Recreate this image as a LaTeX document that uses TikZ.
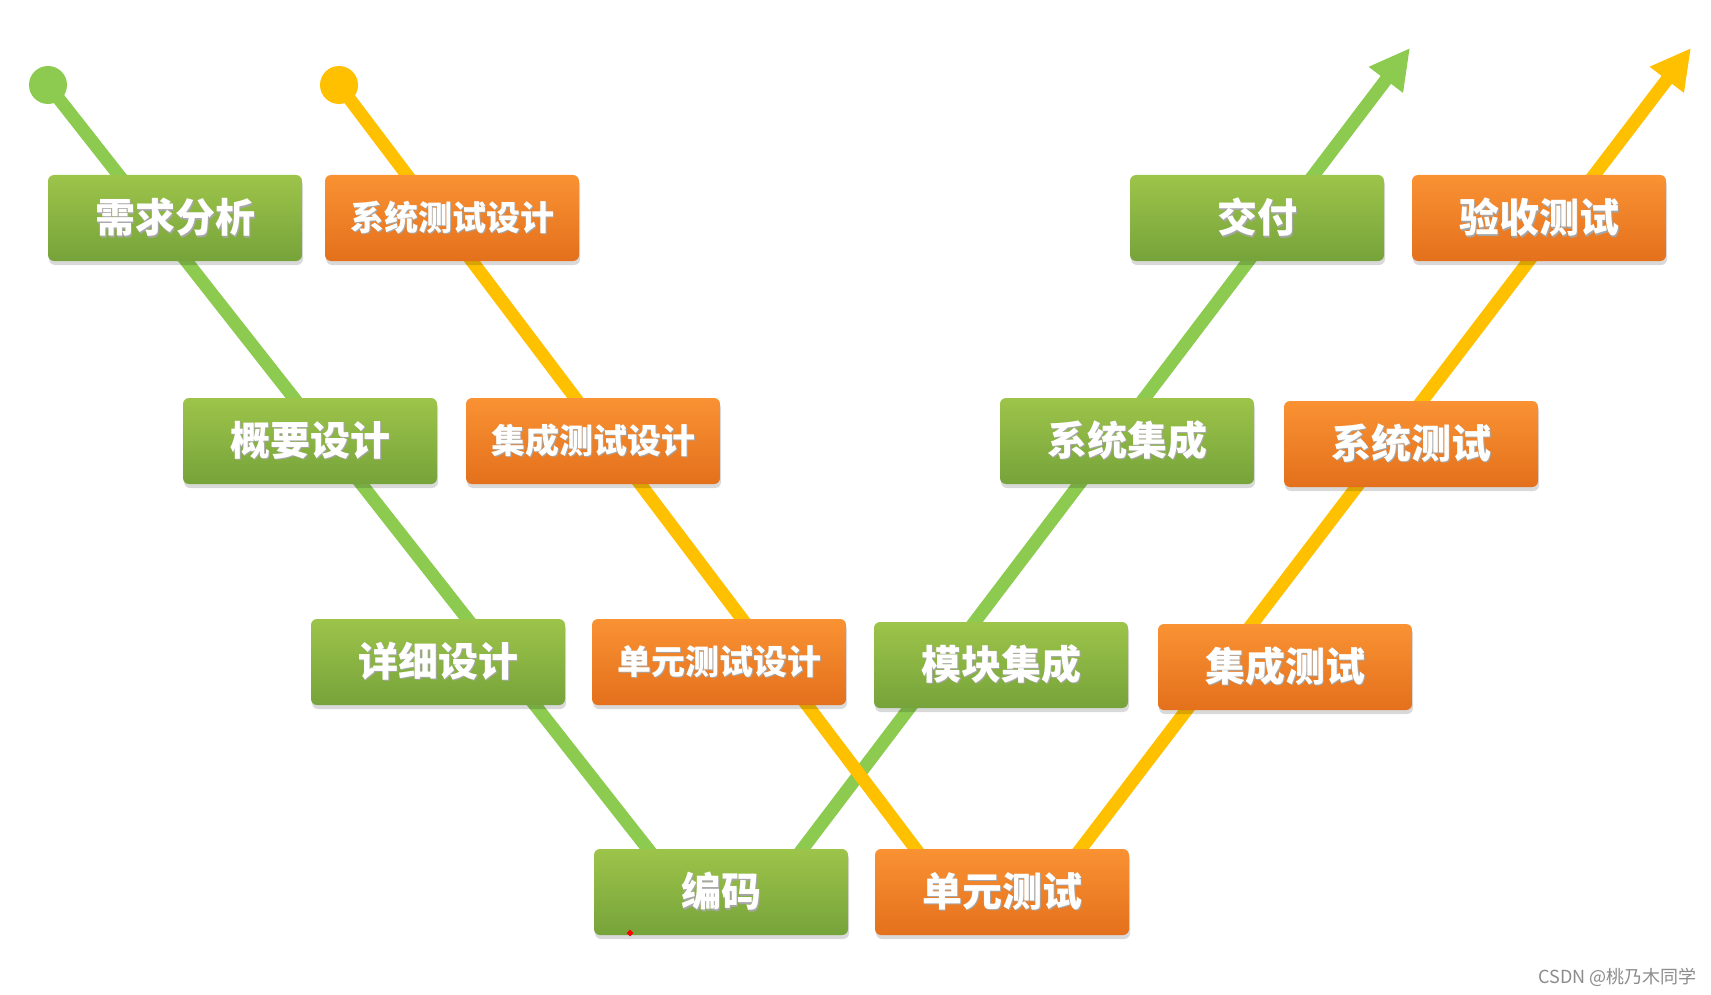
\documentclass[tikz,border=0pt]{standalone}
\usepackage{fontspec}
\setmainfont{Noto Sans CJK SC}
\usetikzlibrary{arrows.meta,shadows,shapes.geometric}
\definecolor{lgreen}{HTML}{8CCB50}
\definecolor{lyellow}{HTML}{FFC000}
\definecolor{gtop}{HTML}{9DC44A}
\definecolor{gbot}{HTML}{76A33A}
\definecolor{otop}{HTML}{F99233}
\definecolor{obot}{HTML}{E4701C}
\newcommand\shtext[1]{\rlap{\kern1.5pt\raisebox{-1.5pt}{\color{black!35}#1}}#1}
\tikzset{
  vbox/.style={rectangle, rounded corners=6pt, minimum width=254pt, minimum height=86pt,
    inner sep=0pt, text=white, font=\bfseries\fontsize{40}{44}\selectfont,
    drop shadow={shadow xshift=1pt, shadow yshift=-4pt, opacity=0.15, fill=black}},
  gbox/.style={vbox, top color=gtop, bottom color=gbot},
  obox/.style={vbox, top color=otop, bottom color=obot},
  small/.style={font=\bfseries\fontsize{34}{40}\selectfont},
  gline/.style={draw=lgreen, line width=13pt},
  yline/.style={draw=lyellow, line width=13pt},
  bigtip/.style={-{Triangle[length=40pt,width=40pt]}},
}
\begin{document}
\begin{tikzpicture}[x=1pt,y=-1pt]
\useasboundingbox[fill=white] (0,0) rectangle (1711,995);
% line coordinates
\coordinate (gs) at (48,85);
\coordinate (gb1) at (692,905);
\coordinate (gb2) at (760,905);
\coordinate (gt) at (1410,48);
\coordinate (ys) at (339,85);
\coordinate (yb1) at (958,905);
\coordinate (yb2) at (1038,905);
\coordinate (yt) at (1691,48);
% lines
\draw[gline] (gs) -- (gb1);
\draw[gline, bigtip] (gb2) -- (gt);
\draw[yline] (ys) -- (yb1);
\draw[yline, bigtip] (yb2) -- (yt);
\fill[lgreen] (gs) circle (19pt);
\fill[lyellow] (ys) circle (19pt);
% boxes
\node[gbox] (n1) at (175,218) {\shtext{需求分析}};
\node[obox,small] (n2) at (452,218) {\shtext{系统测试设计}};
\node[gbox] (n3) at (1257,218) {\shtext{交付}};
\node[obox] (n4) at (1539,218) {\shtext{验收测试}};
\node[gbox] (n5) at (310,441) {\shtext{概要设计}};
\node[obox,small] (n6) at (593,441) {\shtext{集成测试设计}};
\node[gbox] (n7) at (1127,441) {\shtext{系统集成}};
\node[obox] (n8) at (1411,444) {\shtext{系统测试}};
\node[gbox] (n9) at (438,662) {\shtext{详细设计}};
\node[obox,small] (n10) at (719,662) {\shtext{单元测试设计}};
\node[gbox] (n11) at (1001,665) {\shtext{模块集成}};
\node[obox] (n12) at (1285,667) {\shtext{集成测试}};
\node[gbox] (n13) at (721,892) {\shtext{编码}};
\node[obox] (n14) at (1002,892) {\shtext{单元测试}};
% small red mark
\node[diamond, fill=red, inner sep=0pt, minimum size=7pt] (dot) at (630,933) {};
% watermark
\node[anchor=east, text=black!45, font=\fontsize{18}{20}\selectfont, inner sep=0pt] (wm) at (1697,977) {CSDN @桃乃木同学};
\end{tikzpicture}
\end{document}
